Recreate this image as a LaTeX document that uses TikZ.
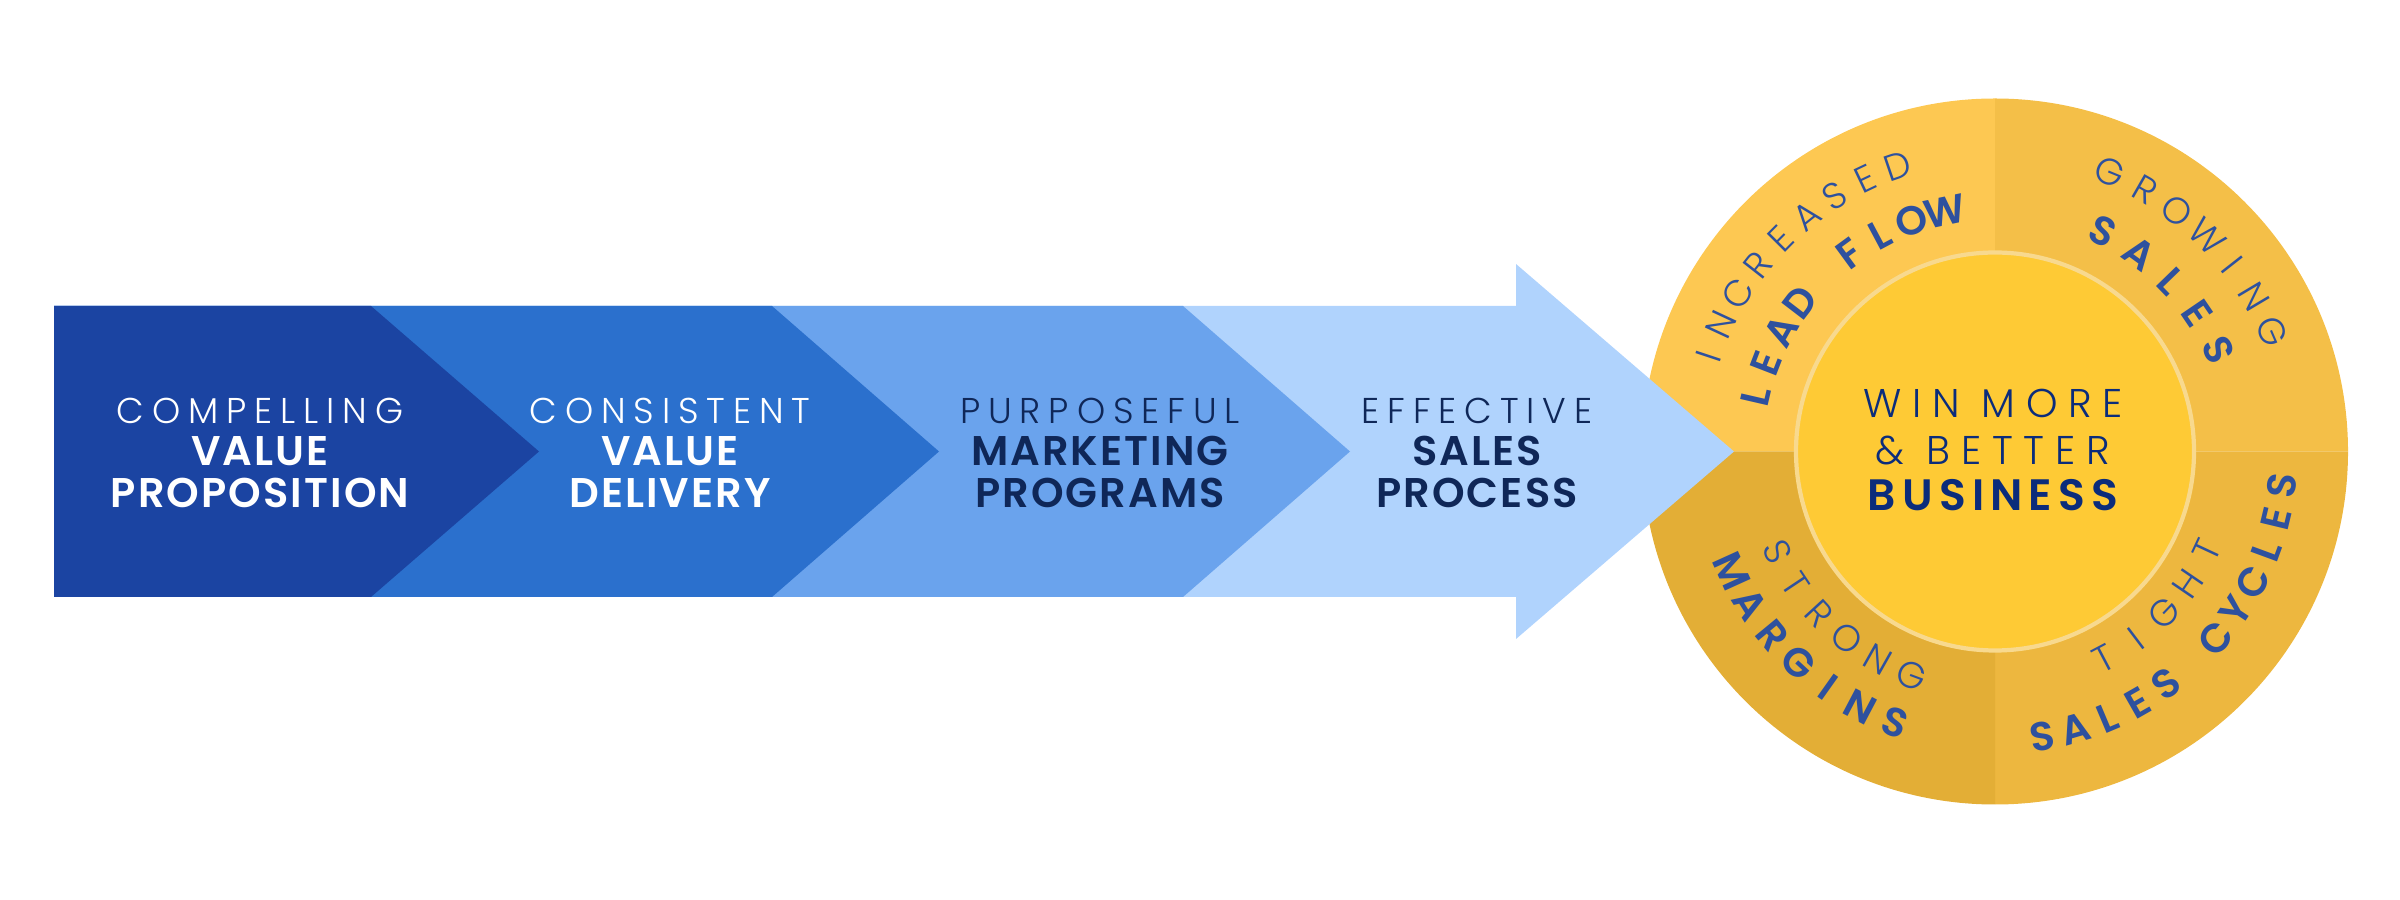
\documentclass[tikz,border=0pt]{standalone}
\usepackage{fontspec}
\newcommand\pickfont[4]{\IfFontExistsTF{#2}{\newfontfamily#1[#4]{#2}}{\newfontfamily#1[#4]{#3}}}
\pickfont\chthin{Poppins Light}{Poppins}{LetterSpace=22}
\pickfont\chbold{Poppins SemiBold}{Poppins Bold}{LetterSpace=5}
\pickfont\ringthin{Poppins Light}{Poppins}{}
\pickfont\ringbold{Poppins SemiBold}{Poppins Bold}{}
\pickfont\ctrthin{Poppins Light}{Poppins}{LetterSpace=27}
\pickfont\ctrbold{Poppins SemiBold}{Poppins Bold}{LetterSpace=14}
\newcommand\ringthinsz{\ringthin\fontsize{10.5}{12}\selectfont}
\newcommand\ringboldsz{\ringbold\fontsize{11.5}{13}\selectfont}
\newcommand\chthinsz{\chthin\fontsize{10.2}{11.95}\selectfont}
\newcommand\chboldsz{\chbold\fontsize{11.8}{11.95}\selectfont}
\newcommand\ctrthinsz{\ctrthin\fontsize{11.4}{13.3}\selectfont}
\newcommand\ctrboldsz{\ctrbold\fontsize{12.5}{13.3}\selectfont}

\definecolor{bandA}{HTML}{1B44A2}
\definecolor{bandB}{HTML}{2B70CD}
\definecolor{bandC}{HTML}{6AA3ED}
\definecolor{bandD}{HTML}{B0D3FD}
\definecolor{navytext}{HTML}{0F2758}
\definecolor{qTL}{HTML}{FDC852}
\definecolor{qTR}{HTML}{F4BF48}
\definecolor{qBR}{HTML}{EDB73F}
\definecolor{qBL}{HTML}{E3AE36}
\definecolor{core}{HTML}{FECA35}
\definecolor{coreline}{HTML}{F8D98E}
\definecolor{ringtext}{HTML}{2E519E}
\definecolor{coretext}{HTML}{0B2C7B}

\newlength\arcW
\newlength\arcT
\newcounter{arcid}
% #1 font, #2 baseline radius, #3 start angle, #4 end angle, #5 dir (+1 ccw, -1 cw), #6 chars
\newcommand\arctext[6]{%
  \stepcounter{arcid}%
  \edef\arcid{\arabic{arcid}}%
  \global\arcW=0pt
  \gdef\arcN{0}%
  \foreach \ch in {#6}{%
    \settowidth\arcT{#1\ch}%
    \global\advance\arcW by \arcT
    \pgfmathtruncatemacro\tmpN{\arcN+1}%
    \xdef\arcN{\tmpN}%
  }%
  \pgfmathsetmacro\arcR{#2*0.2845276}%
  \pgfmathsetmacro\arcLen{\arcR*(abs(#4-(#3))/180)*pi}%
  \pgfmathsetmacro\arcGap{(\arcLen - \arcW)/(\arcN-1)}%
  \xdef\arcGap{\arcGap}%
  \xdef\arcR{\arcR}%
  \gdef\arcS{0}%
  \foreach \ch [count=\k] in {#6}{%
    \settowidth\arcT{#1\ch}%
    \pgfmathsetmacro\arcA{#3+(#5)*((\arcS+\arcT/2)/\arcR)*(180/pi)}%
    \pgfmathsetmacro\arcRot{\arcA+(#5)*90}%
    \node[ringch, font=#1, rotate=\arcRot] (arc\arcid-\k) at ([shift={(\arcA:#2)}]ring) {\ch};
    \pgfmathsetmacro\tmpS{\arcS+\arcT+\arcGap}%
    \xdef\arcS{\tmpS}%
  }%
}

\begin{document}
\begin{tikzpicture}[x=0.01cm,y=0.01cm,
  chtext/.style={align=center, inner sep=0pt, font=\fontsize{10.2}{11.95}\selectfont},
  ctrtext/.style={align=center, inner sep=0pt, text=coretext, font=\fontsize{11.4}{13.3}\selectfont},
  ringch/.style={anchor=base, inner sep=0pt, text=ringtext}]
\useasboundingbox (0,0) rectangle (2400,900);
\coordinate (ring) at (1995,448.5);

% outer ring quadrants
\fill[qTL] (ring) -- ++(180:353) arc[start angle=180,end angle=90,radius=353] -- cycle;
\fill[qTR] (ring) -- ++(90:353) arc[start angle=90,end angle=0,radius=353] -- cycle;
\fill[qBR] (ring) -- ++(0:353) arc[start angle=0,end angle=-90,radius=353] -- cycle;
\fill[qBL] (ring) -- ++(270:353) arc[start angle=270,end angle=180,radius=353] -- cycle;

% core
\fill[core] (ring) circle[radius=199];
\draw[coreline, line width=1.2pt] (ring) circle[radius=199];

% arrow and chevrons
\fill[bandD] (54,594) -- (1516,594) -- (1516,636) -- (1734,448.5) -- (1516,261) -- (1516,303) -- (54,303) -- cycle;
\fill[bandC] (54,594) -- (1183,594) -- (1350,448.5) -- (1183,303) -- (54,303) -- cycle;
\fill[bandB] (54,594) -- (772,594) -- (939,448.5) -- (772,303) -- (54,303) -- cycle;
\fill[bandA] (54,594) -- (371,594) -- (539,448.5) -- (371,303) -- (54,303) -- cycle;

% chevron texts
\node[chtext, text=white] (t1) at (260,447.5) {{\chthinsz COMPELLING}\\{\chboldsz VALUE}\\{\chboldsz PROPOSITION}};
\node[chtext, text=white] (t2) at (670,447.5) {{\chthinsz CONSISTENT}\\{\chboldsz VALUE}\\{\chboldsz DELIVERY}};
\node[chtext, text=navytext] (t3) at (1100,447.5) {{\chthinsz PURPOSEFUL}\\{\chboldsz MARKETING}\\{\chboldsz PROGRAMS}};
\node[chtext, text=navytext] (t4) at (1477,447.5) {{\chthinsz EFFECTIVE}\\{\chboldsz SALES}\\{\chboldsz PROCESS}};

% core text
\node[ctrtext] (core) at (1993,450) {{\ctrthinsz WIN MORE}\\{\ctrthinsz \& BETTER}\\{\ctrboldsz BUSINESS}};

% ring texts
\arctext{\ringthinsz}{289}{161.7}{108.8}{-1}{I,N,C,R,E,A,S,E,D}
\arctext{\ringboldsz}{231}{167}{101.7}{-1}{L,E,A,D,\ ,F,L,O,W}
\arctext{\ringthinsz}{289}{67.6}{23.4}{-1}{G,R,O,W,I,N,G}
\arctext{\ringboldsz}{231}{63.8}{24.4}{-1}{S,A,L,E,S}
\arctext{\ringthinsz}{252}{204.7}{249.5}{1}{S,T,R,O,N,G}
\arctext{\ringboldsz}{303}{204.4}{249.8}{1}{M,A,R,G,I,N,S}
\arctext{\ringthinsz}{247}{297.7}{335}{1}{T,I,G,H,T}
\arctext{\ringboldsz}{303}{279.5}{353.2}{1}{S,A,L,E,S,\ ,C,Y,C,L,E,S}
\end{tikzpicture}
\end{document}
